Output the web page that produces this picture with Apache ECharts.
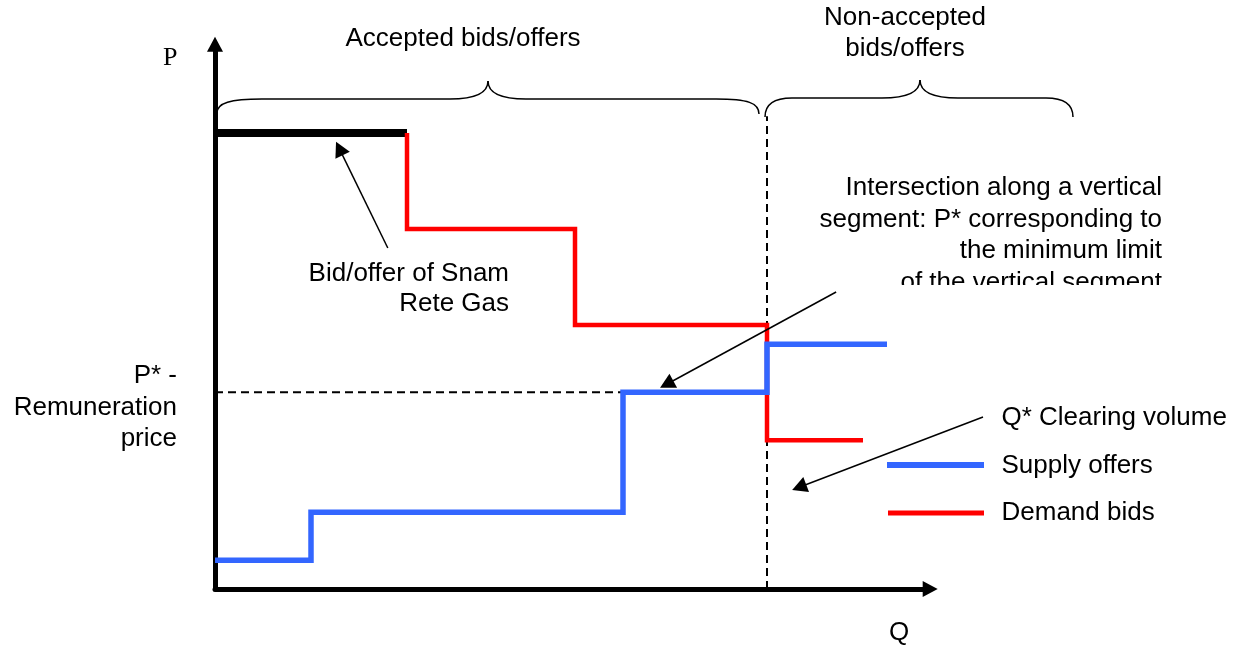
<!DOCTYPE html>
<html><head><meta charset="utf-8">
<script src="https://cdn.jsdelivr.net/npm/echarts@6/dist/echarts.min.js"></script>
<style>html,body{margin:0;padding:0;background:#fff}#c{width:1248px;height:650px}</style>
</head><body><div id="c"></div>
<script>
// Supply offers (step curve: quantity breakpoints / price levels)
const supplyQ = [0, 2, 8.5, 11.5, 14];
const supplyP = [1.2, 3.2, 8.2, 10.2, 10.2];
// Demand bids
const demandQ = [4, 7.5, 11.5, 13.5];
const demandP = [19, 15, 11, 6.2];
// Bid/offer of Snam Rete Gas
const snamQ = [0, 4];
const snamP = [19, 19];
// Clearing point
const clearingQ = 11.5;
const clearingP = 8.2;
const dashTopP = 19.7;
const axisMaxQ = 14.9;
const axisMaxP = 22.7;

const zip = (a, b) => a.map((v, i) => [v, b[i]]);
const F = '"Liberation Sans", Arial, sans-serif';
const RED = '#FF0000', BLUE = '#3366FF';

const chart = echarts.init(document.getElementById('c'), null, {renderer: 'canvas'});
const arrowStyle = {color: '#000', width: 1.5, type: 'solid'};

const option = {
  animation: false,
  backgroundColor: '#fff',
  grid: {left: 215, top: 589 - axisMaxP * 24, width: axisMaxQ * 48, height: axisMaxP * 24, containLabel: false},
  xAxis: {type: 'value', min: 0, max: axisMaxQ,
    axisLine: {show: true, onZero: false, symbol: ['none', 'triangle'], symbolSize: [16, 15], lineStyle: {color: '#000', width: 5}},
    axisTick: {show: false}, axisLabel: {show: false}, splitLine: {show: false}},
  yAxis: {type: 'value', min: 0, max: axisMaxP,
    axisLine: {show: true, onZero: false, symbol: ['none', 'triangle'], symbolSize: [16, 15], lineStyle: {color: '#000', width: 5}},
    axisTick: {show: false}, axisLabel: {show: false}, splitLine: {show: false}},
  series: [
    {type: 'line', silent: true, showSymbol: false, data: [[0, clearingP], [supplyQ[2], clearingP]],
      lineStyle: {color: '#000', width: 2, type: [8, 5]}, z: 1},
    {type: 'line', silent: true, showSymbol: false, data: [[clearingQ, 0], [clearingQ, dashTopP]],
      lineStyle: {color: '#000', width: 2, type: [8, 5]}, z: 1},
    {type: 'line', silent: true, showSymbol: false, data: zip(snamQ, snamP),
      lineStyle: {color: '#000', width: 8, cap: 'butt'}, z: 3,
      markLine: {silent: true, symbol: ['none', 'triangle'], symbolSize: [16, 15], label: {show: false},
        lineStyle: arrowStyle, emphasis: {disabled: true},
        data: [
          [{coord: [3.60, 14.21]}, {coord: [2.59, 18.35]}],
          [{coord: [12.94, 12.375]}, {coord: [9.41, 8.53]}],
          [{x: 983, y: 417}, {coord: [12.17, 4.24]}]
        ]}},
    {type: 'line', silent: true, showSymbol: false, step: 'start', data: zip(demandQ, demandP),
      lineStyle: {color: RED, width: 4.5, join: 'miter'}, z: 4},
    {type: 'line', silent: true, showSymbol: false, step: 'end', data: zip(supplyQ, supplyP),
      lineStyle: {color: BLUE, width: 5.5, join: 'miter'}, z: 5}
  ],
  graphic: [
    // braces
    {type: 'bezierCurve', shape: {x1: 217, y1: 113, cpx1: 217, cpy1: 103, cpx2: 230, cpy2: 99, x2: 262, y2: 99}, style: {stroke: '#000', lineWidth: 1.5, fill: null}},
    {type: 'line', shape: {x1: 262, y1: 99, x2: 450, y2: 99}, style: {stroke: '#000', lineWidth: 1.5}},
    {type: 'bezierCurve', shape: {x1: 450, y1: 99, cpx1: 478, cpy1: 99, cpx2: 488, cpy2: 92, x2: 488, y2: 81}, style: {stroke: '#000', lineWidth: 1.5, fill: null}},
    {type: 'bezierCurve', shape: {x1: 488, y1: 81, cpx1: 488, cpy1: 92, cpx2: 498, cpy2: 99, x2: 526, y2: 99}, style: {stroke: '#000', lineWidth: 1.5, fill: null}},
    {type: 'line', shape: {x1: 526, y1: 99, x2: 716, y2: 99}, style: {stroke: '#000', lineWidth: 1.5}},
    {type: 'bezierCurve', shape: {x1: 716, y1: 99, cpx1: 748, cpy1: 99, cpx2: 759, cpy2: 103, x2: 759, y2: 114}, style: {stroke: '#000', lineWidth: 1.5, fill: null}},

    {type: 'bezierCurve', shape: {x1: 765, y1: 117, cpx1: 765, cpy1: 104, cpx2: 775, cpy2: 98, x2: 792, y2: 98}, style: {stroke: '#000', lineWidth: 1.5, fill: null}},
    {type: 'line', shape: {x1: 792, y1: 98, x2: 882, y2: 98}, style: {stroke: '#000', lineWidth: 1.5}},
    {type: 'bezierCurve', shape: {x1: 882, y1: 98, cpx1: 910, cpy1: 98, cpx2: 920, cpy2: 91, x2: 920, y2: 80}, style: {stroke: '#000', lineWidth: 1.5, fill: null}},
    {type: 'bezierCurve', shape: {x1: 920, y1: 80, cpx1: 920, cpy1: 91, cpx2: 930, cpy2: 98, x2: 958, y2: 98}, style: {stroke: '#000', lineWidth: 1.5, fill: null}},
    {type: 'line', shape: {x1: 958, y1: 98, x2: 1046, y2: 98}, style: {stroke: '#000', lineWidth: 1.5}},
    {type: 'bezierCurve', shape: {x1: 1046, y1: 98, cpx1: 1063, cpy1: 98, cpx2: 1073, cpy2: 104, x2: 1073, y2: 117}, style: {stroke: '#000', lineWidth: 1.5, fill: null}},

    // texts
    {type: 'text', style: {text: 'P', x: 163, y: 45, font: '26px "Liberation Serif", "Times New Roman", serif', lineHeight: 26, fill: '#000', verticalAlign: 'top'}},
    {type: 'text', style: {text: 'Accepted bids/offers', x: 463, y: 23.5, font: '26px ' + F, lineHeight: 31, fill: '#000', align: 'center', verticalAlign: 'top'}},
    {type: 'text', style: {text: 'Non-accepted\nbids/offers', x: 905, y: 2.5, font: '26px ' + F, lineHeight: 31, fill: '#000', align: 'center', verticalAlign: 'top'}},
    {type: 'text', z: 10, style: {text: 'Intersection along a vertical\nsegment: P* corresponding to\nthe minimum limit\nof the vertical segment', x: 1162, y: 172.25, font: '26px ' + F, lineHeight: 31.5, fill: '#000', align: 'right', verticalAlign: 'top'}},
    {type: 'rect', z: 11, shape: {x: 880, y: 285, width: 300, height: 16}, style: {fill: '#fff'}},
    {type: 'text', style: {text: 'Bid/offer of Snam\nRete Gas', x: 509, y: 259, font: '26px ' + F, lineHeight: 30, fill: '#000', align: 'right', verticalAlign: 'top'}},
    {type: 'text', style: {text: 'P* -\nRemuneration\nprice', x: 177, y: 360.25, font: '26px ' + F, lineHeight: 31.5, fill: '#000', align: 'right', verticalAlign: 'top'}},
    {type: 'text', style: {text: 'Q', x: 889, y: 617.5, font: '26px ' + F, lineHeight: 31, fill: '#000', verticalAlign: 'top'}},

    // legend
    {type: 'text', style: {text: 'Q* Clearing volume', x: 1001.5, y: 402.5, font: '26px ' + F, lineHeight: 31, fill: '#000', verticalAlign: 'top'}},
    {type: 'line', shape: {x1: 887, y1: 465, x2: 984, y2: 465}, style: {stroke: BLUE, lineWidth: 6}},
    {type: 'text', style: {text: 'Supply offers', x: 1001.5, y: 450.5, font: '26px ' + F, lineHeight: 31, fill: '#000', verticalAlign: 'top'}},
    {type: 'line', shape: {x1: 888, y1: 513, x2: 984, y2: 513}, style: {stroke: RED, lineWidth: 5}},
    {type: 'text', style: {text: 'Demand bids', x: 1001.5, y: 497.5, font: '26px ' + F, lineHeight: 31, fill: '#000', verticalAlign: 'top'}}
  ]
};
chart.setOption(option);
</script>
</body></html>
